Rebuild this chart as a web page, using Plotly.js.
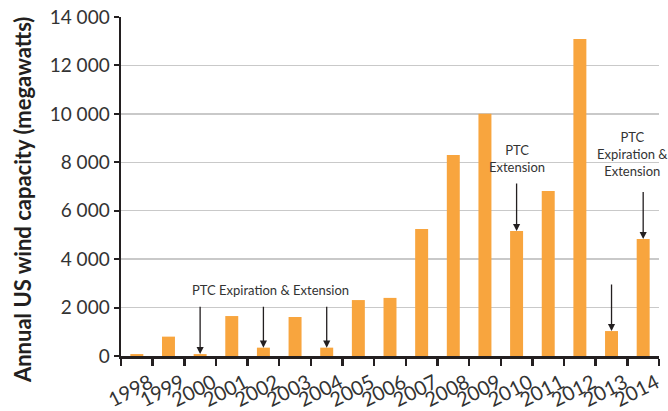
<!DOCTYPE html>
<html>
<head>
<meta charset="utf-8">
<script src="https://cdn.plot.ly/plotly-3.0.1.min.js"></script>
<style>html,body{margin:0;padding:0;background:#fff;}#chart{width:668px;height:411px;}</style>
</head>
<body>
<div id="chart"></div>
<script>
const years = ["1998","1999","2000","2001","2002","2003","2004","2005","2006","2007","2008","2009","2010","2011","2012","2013","2014"];
const capacityMW = [80, 800, 80, 1650, 345, 1610, 345, 2310, 2400, 5250, 8300, 10000, 5160, 6810, 13090, 1030, 4830];
const yTickVals = [0, 2000, 4000, 6000, 8000, 10000, 12000, 14000];
const yTitle = "Annual US wind capacity (megawatts)";

// arrows: [year, tail value]; tip is the bar top
const arrowYears = ["2000", "2002", "2004", "2010", "2013", "2014"];
const arrowTails = [2100, 2100, 2100, 7190, 3010, 6830];
const noteTexts = ["PTC Expiration & Extension", "PTC<br>Extension", "PTC<br>Expiration &<br>Extension"];
const noteX = [4.21, 12, 15.65];   // category index positions
const noteY = [2740, 8140, 8340];

const font = "Lato, 'Open Sans', sans-serif";
const dark = "#231f20";

const annotations = [];
arrowYears.forEach((yr, i) => {
  const idx = years.indexOf(yr);
  const tip = capacityMW[idx];
  annotations.push({
    x: idx, y: tip, xref: 'x', yref: 'y',
    ax: idx, ay: arrowTails[i], axref: 'x', ayref: 'y',
    text: '', showarrow: true, arrowhead: 2, arrowsize: 1.1, arrowwidth: 1.3,
    arrowcolor: dark, standoff: 0, startstandoff: 0
  });
});
noteTexts.forEach((t, i) => {
  annotations.push({
    x: noteX[i], y: noteY[i], xref: 'x', yref: 'y', text: t, showarrow: false,
    font: {family: font, size: 13, color: '#333'}, align: 'center'
  });
});
// y-axis title, placed as in the reference
annotations.push({
  x: -0.184, y: 0.46, xref: 'paper', yref: 'paper', text: yTitle, textangle: -90,
  showarrow: false, xanchor: 'center', yanchor: 'middle',
  font: {family: font, size: 22, color: dark, weight: 'bold'}
});

const data = [{
  type: 'bar', x: years, y: capacityMW,
  marker: {color: '#f8a53e'}, hoverinfo: 'x+y'
}];

const layout = {
  width: 668, height: 411,
  margin: {l: 121, r: 9, t: 17, b: 55},
  paper_bgcolor: '#fff', plot_bgcolor: '#fff',
  separators: '. ',
  showlegend: false,
  bargap: 0.59,
  font: {family: font, color: '#333'},
  xaxis: {
    type: 'category', tickson: 'boundaries', range: [-0.5, years.length - 0.5], autorange: false,
    showline: true, linecolor: dark, linewidth: 2.5,
    ticks: 'outside', ticklen: 7, tickwidth: 2.5, tickcolor: dark,
    tickangle: -27, tickfont: {family: font, size: 20, color: '#333'},
    ticklabelstandoff: 5, ticklabelshift: 13,
    showgrid: false, zeroline: false
  },
  yaxis: {
    range: [0, 14000], autorange: false, tickvals: yTickVals, tickformat: ',d',
    showline: true, linecolor: dark, linewidth: 2.5,
    ticks: 'outside', ticklen: 5, tickwidth: 2, tickcolor: dark,
    tickfont: {family: font, size: 19, color: '#333'},
    showgrid: true, gridcolor: '#c9c9c9', gridwidth: 1.5, zeroline: false
  },
  annotations: annotations
};

Plotly.newPlot('chart', data, layout, {displayModeBar: false, staticPlot: true});
</script>
</body>
</html>
